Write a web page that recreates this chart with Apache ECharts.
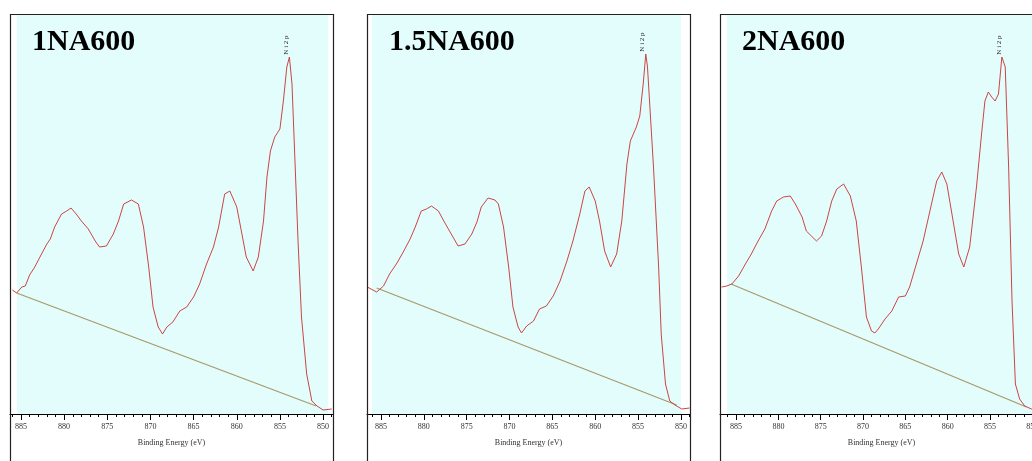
<!DOCTYPE html>
<html>
<head>
<meta charset="utf-8">
<script src="https://cdn.jsdelivr.net/npm/echarts@6/dist/echarts.min.js"></script>
<style>
  html, body { margin: 0; padding: 0; background: #fff; }
  #main { width: 1032px; height: 461px; }
</style>
</head>
<body>
<div id="main"></div>
<script>
// sample names
var names = ["1NA600", "1.5NA600", "2NA600"];

// binding energy (eV) and intensity (arbitrary)
var energy1 = [886.0, 885.5, 884.9, 884.5, 884.0, 883.4, 882.8, 882.0, 881.6, 881.1, 880.3, 879.7, 879.2, 878.6, 878.0, 877.2, 876.4, 875.9, 875.1, 874.3, 873.7, 873.1, 872.2, 871.4, 870.8, 870.2, 869.7, 869.1, 868.6, 868.1, 867.4, 866.6, 865.8, 865.0, 864.3, 863.5, 862.7, 862.1, 861.4, 860.8, 860.0, 859.4, 858.9, 858.1, 857.5, 856.9, 856.5, 856.1, 855.6, 855.0, 854.6, 854.2, 853.9, 853.6, 853.3, 852.9, 852.5, 851.9, 851.3, 850.7, 850.0, 849.0];
var counts1 = [124, 121, 127, 128, 139, 147, 157, 170, 175, 187, 200, 203, 206, 200, 193, 185, 173, 167, 168, 180, 193, 210, 214, 210, 187, 147, 107, 87, 80, 87, 92, 103, 107, 117, 130, 150, 167, 187, 220, 223, 207, 180, 157, 143, 157, 193, 237, 263, 277, 285, 313, 347, 357, 330, 263, 173, 97, 40, 13, 8, 4, 5];

var energy2 = [886.6, 885.5, 884.7, 884.0, 883.2, 882.4, 881.6, 881.0, 880.3, 879.7, 879.1, 878.3, 877.6, 876.8, 876.0, 875.2, 874.4, 873.8, 873.3, 872.5, 871.7, 871.3, 870.7, 870.1, 869.6, 869.0, 868.6, 868.0, 867.2, 866.5, 865.7, 864.9, 864.1, 863.3, 862.6, 861.8, 861.2, 860.7, 860.0, 859.5, 858.9, 858.2, 857.5, 856.9, 856.3, 855.9, 855.2, 854.8, 854.4, 854.1, 853.9, 853.2, 852.6, 852.3, 851.8, 851.3, 850.7, 849.9, 849.0];
var counts2 = [127, 122, 128, 140, 150, 162, 175, 187, 203, 205, 208, 203, 192, 180, 168, 170, 180, 192, 207, 216, 214, 210, 187, 147, 107, 87, 81, 88, 93, 105, 108, 118, 133, 153, 173, 200, 223, 227, 213, 193, 163, 147, 160, 193, 250, 273, 287, 298, 330, 360, 347, 247, 147, 80, 30, 13, 9, 5, 6];

var energy3 = [886.7, 886.1, 885.5, 884.7, 883.9, 883.2, 882.4, 881.6, 880.8, 880.2, 879.4, 878.6, 878.0, 877.2, 876.7, 876.1, 875.5, 874.9, 874.3, 873.7, 873.1, 872.3, 871.5, 870.8, 870.2, 869.6, 869.0, 868.6, 868.2, 867.4, 866.6, 865.8, 865.0, 864.5, 863.7, 862.9, 862.1, 861.3, 860.7, 860.1, 859.5, 858.7, 858.1, 857.4, 856.6, 856.0, 855.6, 855.2, 854.8, 854.4, 854.0, 853.6, 853.2, 852.8, 852.4, 852.0, 851.5, 850.9, 850.1, 849.3];
var counts3 = [127, 128, 130, 138, 150, 160, 173, 185, 203, 213, 217, 218, 210, 197, 183, 178, 173, 178, 193, 213, 225, 230, 218, 193, 147, 97, 83, 81, 85, 95, 103, 117, 118, 127, 150, 173, 203, 233, 242, 230, 200, 160, 147, 167, 227, 280, 313, 322, 317, 313, 320, 357, 347, 247, 113, 30, 15, 8, 5, 4];

// Shirley-like background, start and end points
var baseE1 = [885.5, 850.8];
var baseI1 = [121, 8];
var baseE2 = [885.5, 850.5];
var baseI2 = [126, 9];
var baseE3 = [885.6, 850.7];
var baseI3 = [130, 7];

// peak used for the Ni 2p label
var peakE = [853.9, 854.1, 853.55];
var peakI = [357, 360, 357];

var tickLabels = [850, 855, 860, 865, 870, 875, 880, 885];
var minorTicks = [];
for (var t = 849; t <= 886; t++) minorTicks.push(t);

// axis range and cyan area of each panel (eV)
var axisMin = [848.85, 848.94, 848.74];
var axisMax = [886.27, 886.63, 886.9];
var cyanFrom = [885.46, 886.05, 886.06];
var cyanTo = [849.4, 850.0, 848.9];

// layout of the panels (px)
var panelLeft = [10, 367, 720];
var panelWidth = [323, 323, 323];
var panelTop = 15;
var plotHeight = 399;

var myChart = echarts.init(document.getElementById("main"));

var energies = [energy1, energy2, energy3];
var counts = [counts1, counts2, counts3];
var baseE = [baseE1, baseE2, baseE3];
var baseI = [baseI1, baseI2, baseI3];

var grid = [], xAxis = [], yAxis = [], series = [], title = [], graphic = [];

for (var i = 0; i < 3; i++) {
	grid.push({
		left: panelLeft[i],
		top: panelTop,
		width: panelWidth[i],
		height: plotHeight,
		outerBoundsMode: "none",
		containLabel: false,
	});
	// labelled axis with 1 eV ticks
	xAxis.push({
		type: "value",
		gridIndex: i,
		inverse: true,
		min: axisMin[i],
		max: axisMax[i],
		axisLine: { lineStyle: { color: "#000", width: 1 } },
		axisTick: { customValues: minorTicks, length: 3, lineStyle: { color: "#000" } },
		axisLabel: {
			customValues: tickLabels,
			fontFamily: "Liberation Serif",
			fontSize: 8,
			color: "#333",
			margin: 9,
		},
		splitLine: { show: false },
		name: "Binding Energy (eV)",
		nameLocation: "middle",
		nameGap: 25,
		nameTextStyle: { fontFamily: "Liberation Serif", fontSize: 8, color: "#333" },
	});
	// longer ticks every 5 eV
	xAxis.push({
		type: "value",
		gridIndex: i,
		inverse: true,
		min: axisMin[i],
		max: axisMax[i],
		position: "bottom",
		axisLine: { show: false },
		axisTick: { customValues: tickLabels, length: 6, lineStyle: { color: "#000" } },
		axisLabel: { show: false },
		splitLine: { show: false },
	});
	yAxis.push({
		type: "value",
		gridIndex: i,
		min: 0,
		max: plotHeight,
		show: false,
	});

	var spec = energies[i].map(function (e, k) { return [e, counts[i][k]]; });
	var bg = baseE[i].map(function (e, k) { return [e, baseI[i][k]]; });

	series.push({
		type: "line",
		xAxisIndex: i * 2,
		yAxisIndex: i,
		data: bg,
		symbol: "none",
		silent: true,
		lineStyle: { color: "#a89968", width: 1.2 },
		markArea: {
			silent: true,
			itemStyle: { color: "#e3fdfc" },
			data: [[{ xAxis: cyanFrom[i] }, { xAxis: cyanTo[i] }]],
		},
		z: 2,
	});
	series.push({
		type: "line",
		xAxisIndex: i * 2,
		yAxisIndex: i,
		data: spec,
		symbol: "none",
		silent: true,
		lineStyle: { color: "#cc4444", width: 1 },
		markPoint: {
			symbol: "circle",
			symbolSize: 0,
			data: [{ coord: [peakE[i], peakI[i]] }],
			label: {
				show: true,
				formatter: "N i 2 p",
				rotate: 90,
				position: "top",
				distance: 12,
				fontFamily: "Liberation Serif",
				fontSize: 7,
				color: "#222",
			},
		},
		z: 3,
	});

	title.push({
		text: names[i],
		left: panelLeft[i] + 17,
		top: 22,
		textStyle: {
			fontFamily: "Liberation Serif",
			fontWeight: "bold",
			fontSize: 30,
			color: "#000",
		},
	});

	// outer frame of each panel
	graphic.push({
		type: "rect",
		shape: { x: panelLeft[i] + 0.5, y: panelTop - 0.5, width: panelWidth[i], height: 470 },
		style: { fill: null, stroke: "#222", lineWidth: 1.2 },
		silent: true,
		z: 10,
	});
}

var option = {
	animation: false,
	backgroundColor: "#fff",
	title: title,
	grid: grid,
	xAxis: xAxis,
	yAxis: yAxis,
	series: series,
	graphic: graphic,
};

myChart.setOption(option);
</script>
</body>
</html>
